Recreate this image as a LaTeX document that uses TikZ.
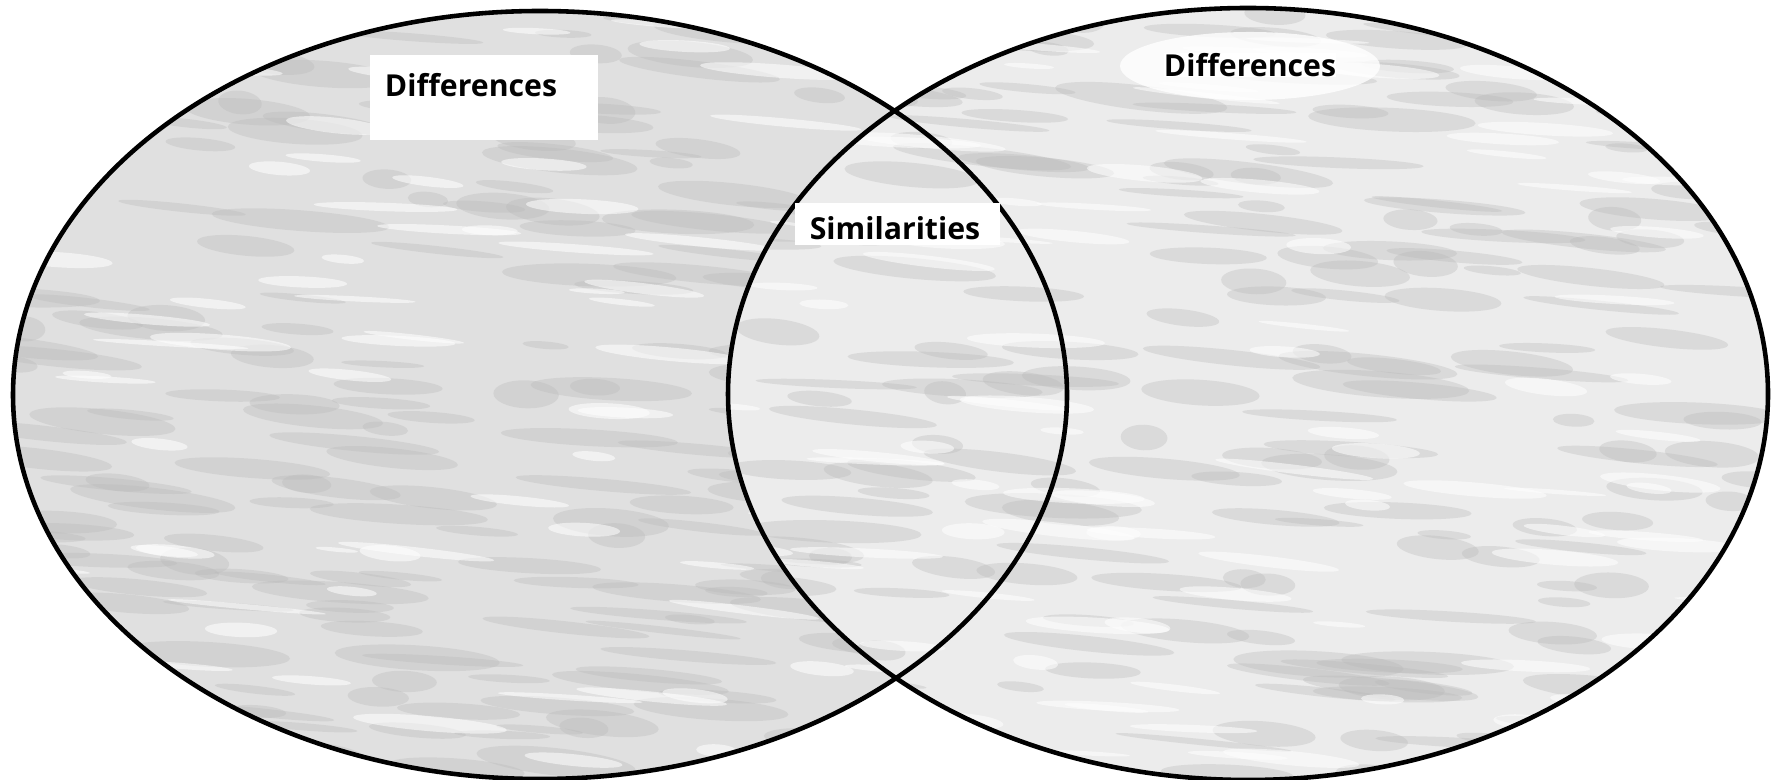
\documentclass[tikz,border=0pt]{standalone}
\usepackage{fontspec}
\setmainfont{Open Sans}
\usepackage{tikz}
\usetikzlibrary{positioning,calc}

\tikzset{
  label box/.style={fill=white,inner sep=0pt,font=\fontsize{8.6}{10}\selectfont\bfseries},
  streak/.style={fill=gray!55,opacity=.35},
  gap/.style={fill=white,opacity=.55}
}

\begin{document}
\begin{tikzpicture}[x=0.1mm,y=-0.1mm]
  \useasboundingbox (0,0) rectangle (1771,780);
  \pgfmathsetseed{23}
  \begin{scope}
    \clip (540,395) ellipse [x radius=52.7mm, y radius=38.4mm];
    \fill[gray!24] (0,0) rectangle (1771,780);
    \foreach \i in {1,...,260}{
      \pgfmathsetmacro\px{rnd*1100}
      \pgfmathsetmacro\py{rnd*780}
      \pgfmathsetmacro\rx{2+7*rnd}
      \pgfmathsetmacro\ry{0.3+1.1*rnd}
      \fill[streak,rotate around={-2-5*rnd:(\px,\py)}] (\px,\py) ellipse [x radius=\rx mm, y radius=\ry mm];
    }
    \foreach \i in {1,...,90}{
      \pgfmathsetmacro\px{rnd*1100}
      \pgfmathsetmacro\py{rnd*780}
      \pgfmathsetmacro\rx{2+6*rnd}
      \pgfmathsetmacro\ry{0.2+0.6*rnd}
      \fill[gap,rotate around={-2-5*rnd:(\px,\py)}] (\px,\py) ellipse [x radius=\rx mm, y radius=\ry mm];
    }
  \end{scope}
  \begin{scope}
    \clip (1248,394) ellipse [x radius=52.0mm, y radius=38.6mm];
    \fill[gray!15] (0,0) rectangle (1771,780);
    \foreach \i in {1,...,220}{
      \pgfmathsetmacro\px{700+rnd*1071}
      \pgfmathsetmacro\py{rnd*780}
      \pgfmathsetmacro\rx{2+7*rnd}
      \pgfmathsetmacro\ry{0.3+1.0*rnd}
      \fill[streak,rotate around={-2-5*rnd:(\px,\py)}] (\px,\py) ellipse [x radius=\rx mm, y radius=\ry mm];
    }
    \foreach \i in {1,...,110}{
      \pgfmathsetmacro\px{700+rnd*1071}
      \pgfmathsetmacro\py{rnd*780}
      \pgfmathsetmacro\rx{2+6*rnd}
      \pgfmathsetmacro\ry{0.2+0.6*rnd}
      \fill[gap,rotate around={-2-5*rnd:(\px,\py)}] (\px,\py) ellipse [x radius=\rx mm, y radius=\ry mm];
    }
  \end{scope}
  \draw[line width=1.3pt] (540,395) ellipse [x radius=52.7mm, y radius=38.4mm];
  \draw[line width=1.3pt] (1248,394) ellipse [x radius=52.0mm, y radius=38.6mm];

  \fill[white] (370,55) rectangle (598,140);
  \node[label box] (diffleft) at (471,85) {Differences};
  \fill[white,opacity=.8] (1250,66) ellipse [x radius=13mm, y radius=3.4mm];
  \node[label box] (diffright) at (1250,65) {Differences};
  \fill[white] (795,203) rectangle (1000,245);
  \node[label box] (simil) at (895,228) {Similarities};
\end{tikzpicture}
\end{document}
